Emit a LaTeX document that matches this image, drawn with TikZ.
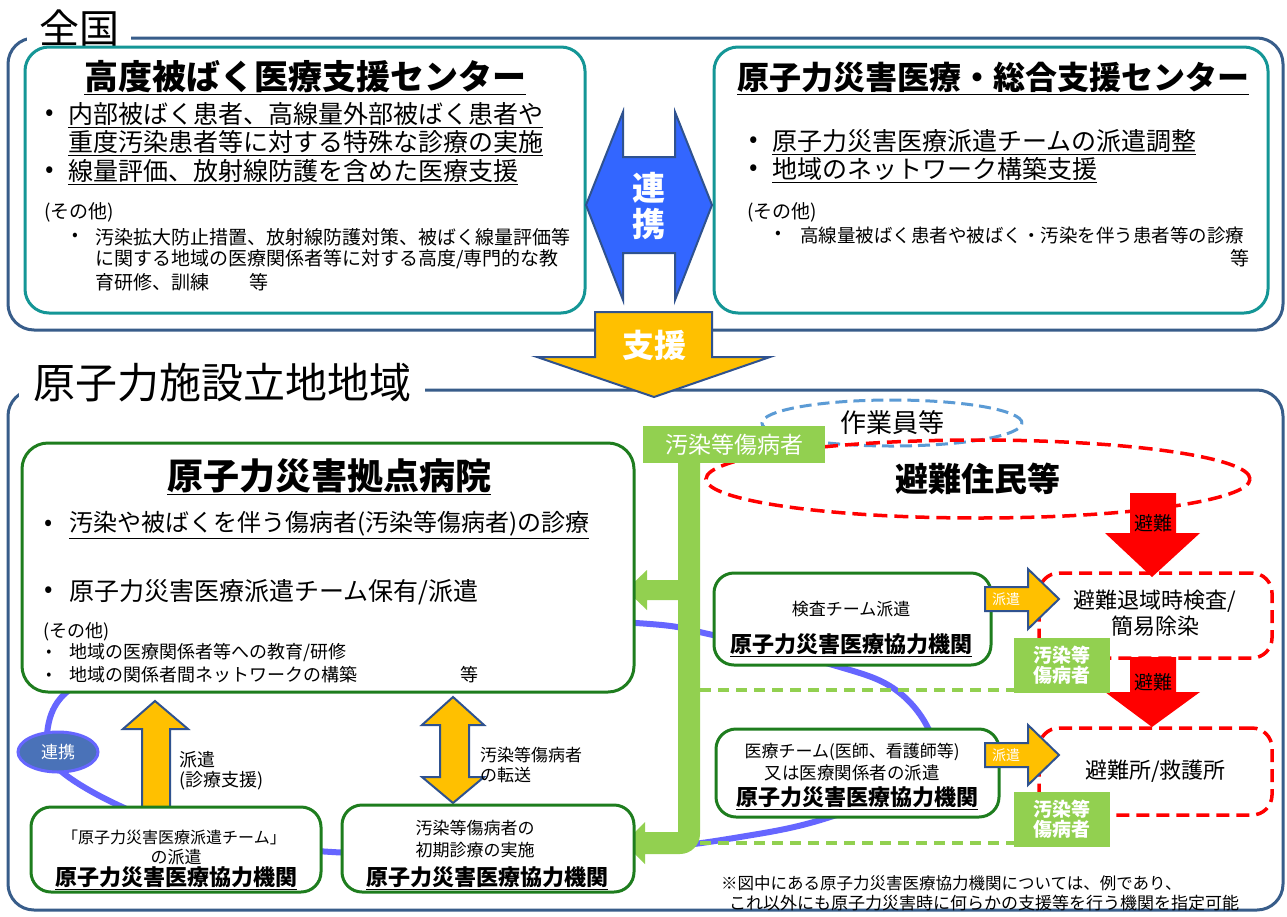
\documentclass[tikz,border=0pt]{standalone}
\usepackage{fontspec}
\setmainfont{Noto Sans CJK JP}
\usetikzlibrary{shapes.geometric}
\definecolor{framec}{RGB}{56,93,138}
\definecolor{tealc}{RGB}{20,150,150}
\definecolor{greenc}{RGB}{30,125,30}
\definecolor{lgreen}{RGB}{146,208,80}
\definecolor{orangec}{RGB}{255,192,0}
\definecolor{arrowblue}{RGB}{51,102,255}
\definecolor{arrowedge}{RGB}{47,82,143}
\definecolor{loopc}{RGB}{102,102,255}
\definecolor{ellfill}{RGB}{74,114,184}
\definecolor{dashblue}{RGB}{91,155,213}
\newcommand\fpx[2]{\fontsize{#1}{#2}\selectfont}
\begin{document}
\begin{tikzpicture}[x=1pt,y=-1pt,
  txt/.style={inner sep=0pt},
  frameln/.style={draw=framec, line width=3pt, rounded corners=26pt},
  tealbox/.style={draw=tealc, line width=3pt, rounded corners=24pt, inner sep=0pt},
  gbox/.style={draw=greenc, line width=3pt, rounded corners=20pt, fill=white, inner sep=0pt},
  oarrow/.style={fill=orangec, draw=arrowedge, line width=2pt},
  redarrow/.style={fill=red, draw=none},
  reddash/.style={draw=red, line width=3.5pt, dash pattern=on 13pt off 7pt, rounded corners=20pt, inner sep=0pt},
  gdash/.style={draw=lgreen, line width=4pt, dash pattern=on 11pt off 7pt},
  glabel/.style={fill=lgreen, text=white, inner sep=0pt, align=center},
  boldu/.style={txt, font=\bfseries\fpx{22}{24}},
]
\useasboundingbox (0,0) rectangle (1287,916);
\fill[white] (0,0) rectangle (1287,916);

% ---------- frames ----------
\draw[frameln] (8,38) rectangle (1283,330);
\node[font=\fpx{40}{40}, fill=white, inner xsep=12pt, inner ysep=1pt, anchor=west] (zenkoku) at (27,28) {全国};
\draw[frameln] (8,390) rectangle (1283,910);
\node[font=\fpx{42}{42}, fill=white, inner xsep=14pt, inner ysep=1pt, anchor=west] (ritchi) at (19,383) {原子力施設立地地域};

% ---------- blue loop ----------
\draw[loopc, line width=6pt] plot[smooth cycle, tension=0.6] coordinates {(46,745) (72,688) (200,640) (420,616) (636,623) (713,635) (833,665) (893,688) (928,728) (936,775) (827,818) (740,837) (640,849) (480,853) (332,852) (200,836) (118,805) (62,772)};

% ---------- top boxes ----------
\node[tealbox, minimum width=560, minimum height=266] (kodo) at (305,180) {};
\node[tealbox, minimum width=554, minimum height=266] (sogo) at (991,180) {};

\node[txt, font=\bfseries\fpx{34}{38}] (kodot) at (305,78) {\underline{高度被ばく医療支援センター}};
\node[txt, font=\fpx{25}{28}] (kb1) at (50,115) {•};
\node[txt, font=\fpx{25}{28}, anchor=west] (k1) at (68,115) {\underline{内部被ばく患者、高線量外部被ばく患者や}};
\node[txt, font=\fpx{25}{28}, anchor=west] (k2) at (68,143) {\underline{重度汚染患者等に対する特殊な診療の実施}};
\node[txt, font=\fpx{25}{28}] (kb2) at (50,172) {•};
\node[txt, font=\fpx{25}{28}, anchor=west] (k3) at (68,172) {\underline{線量評価、放射線防護を含めた医療支援}};
\node[txt, font=\fpx{19}{22}, anchor=west] (ko) at (44,212) {(その他)};
\node[txt, font=\fpx{17}{20}] (kb3) at (75,237) {•};
\node[txt, font=\fpx{19}{22}, anchor=west] (ko1) at (95,237) {汚染拡大防止措置、放射線防護対策、被ばく線量評価等};
\node[txt, font=\fpx{19}{22}, anchor=west] (ko2) at (95,259) {に関する地域の医療関係者等に対する高度/専門的な教};
\node[txt, font=\fpx{19}{22}, anchor=west] (ko3) at (95,282) {育研修、訓練\hspace{40pt}等};

\node[txt, font=\bfseries\fpx{32}{36}] (sogot) at (993,78) {\underline{原子力災害医療・総合支援センター}};
\node[txt, font=\fpx{25}{28}] (sb1) at (754,142) {•};
\node[txt, font=\fpx{25}{28}, anchor=west] (s1) at (772,142) {\underline{原子力災害医療派遣チームの派遣調整}};
\node[txt, font=\fpx{25}{28}] (sb2) at (754,170) {•};
\node[txt, font=\fpx{25}{28}, anchor=west] (s2) at (772,170) {\underline{地域のネットワーク構築支援}};
\node[txt, font=\fpx{19}{22}, anchor=west] (so) at (747,212) {(その他)};
\node[txt, font=\fpx{17}{20}] (sb3) at (778,235) {•};
\node[txt, font=\fpx{18.5}{22}, anchor=west] (so1) at (800,235) {高線量被ばく患者や被ばく・汚染を伴う患者等の診療};
\node[txt, font=\fpx{19}{22}, anchor=east] (so2) at (1250,258) {等};

% ---------- renkei / shien arrows ----------
\draw[fill=arrowblue, draw=arrowedge, line width=2pt] (586,205) -- (623,112) -- (623,157) -- (675,157) -- (675,112) -- (712,205) -- (675,300) -- (675,253) -- (623,253) -- (623,300) -- cycle;
\node[txt, text=white, font=\bfseries\fpx{33}{36}, align=center] (renkeit) at (649,206) {連\\携};
\draw[oarrow] (595,312) -- (712,312) -- (712,357) -- (770,357) -- (654,397) -- (537,357) -- (595,357) -- cycle;
\node[txt, text=white, font=\bfseries\fpx{32}{34}] (shient) at (654,345) {支援};

% ---------- ellipses ----------
\node[ellipse, draw=dashblue, line width=3pt, dash pattern=on 12pt off 6pt, minimum width=260, minimum height=46, inner sep=0pt, font=\fpx{26}{28}] (sagyo) at (892,423) {作業員等};
\node[ellipse, draw=red, line width=3.5pt, dash pattern=on 14pt off 7pt, minimum width=544, minimum height=78, inner sep=0pt, font=\bfseries\fpx{33}{36}] (hinan) at (978,479) {避難住民等};

% ---------- green T arrow ----------
\fill[lgreen] (678,460) -- (678,580) -- (647,580) -- (647,570) -- (626,590) -- (647,610) -- (647,600) -- (678,600) -- (678,832) -- (645,832) -- (645,822) -- (624,843) -- (645,864) -- (645,854) -- (680,854) .. controls (691,854) and (700,845) .. (700,834) -- (700,460) -- cycle;
\node[glabel, minimum width=182, minimum height=37, font=\fpx{23}{26}] (osen) at (734,444.5) {汚染等傷病者};

% ---------- green dashed lines ----------
\coordinate (d1s) at (700,690);
\coordinate (d1e) at (1016,690);
\coordinate (d2s) at (700,843);
\coordinate (d2e) at (1016,843);
\draw[gdash] (d1s) -- (d1e);
\draw[gdash] (d2s) -- (d2e);

% ---------- hospital ----------
\node[gbox, minimum width=612, minimum height=249, rounded corners=26pt] (hosp) at (328,567.5) {};
\node[txt, font=\bfseries\fpx{36}{40}] (hospt) at (329,477) {\underline{原子力災害拠点病院}};
\node[txt, font=\fpx{24}{28}] (hb1) at (49,525) {•};
\node[txt, font=\fpx{24}{28}, anchor=west] (h1) at (69,525) {\underline{汚染や被ばくを伴う傷病者(汚染等傷病者)の診療}};
\node[txt, font=\fpx{25}{28}] (hb2) at (49,592) {•};
\node[txt, font=\fpx{25}{28}, anchor=west] (h2) at (69,592) {原子力災害医療派遣チーム保有/派遣};
\node[txt, font=\fpx{18}{22}, anchor=west] (ho) at (43,632) {(その他)};
\node[txt, font=\fpx{15}{18}] (hb3) at (49,653) {•};
\node[txt, font=\fpx{18}{22}, anchor=west] (ho1) at (69,652) {地域の医療関係者等への教育/研修};
\node[txt, font=\fpx{15}{18}] (hb4) at (49,676) {•};
\node[txt, font=\fpx{18}{22}, anchor=west] (ho2) at (69,675) {地域の関係者間ネットワークの構築};
\node[txt, font=\fpx{18}{22}, anchor=west] (ho3) at (460,675) {等};

% ---------- orange arrows bottom-left ----------
\draw[oarrow] (142,808) -- (142,729) -- (123,729) -- (155,701) -- (188,729) -- (170,729) -- (170,808) -- cycle;
\node[txt, font=\fpx{18}{22}, anchor=west] (hak1) at (179,760) {派遣};
\node[txt, font=\fpx{18}{22}, anchor=west] (hak2) at (179,781) {(診療支援)};
\draw[oarrow] (440,725) -- (422,725) -- (453,697) -- (484,725) -- (469,725) -- (469,777) -- (484,777) -- (453,803) -- (422,777) -- (440,777) -- cycle;
\node[txt, font=\fpx{17}{20}, anchor=west] (ten1) at (480,755) {汚染等傷病者};
\node[txt, font=\fpx{17}{20}, anchor=west] (ten2) at (480,775) {の転送};

% ---------- renkei ellipse ----------
\node[ellipse, fill=ellfill, draw=loopc, line width=3pt, minimum width=80, minimum height=40, inner sep=0pt, text=white, font=\fpx{17}{20}] (renkeiell) at (58,752) {連携};

% ---------- bottom boxes ----------
\node[gbox, minimum width=290, minimum height=85] (bl) at (176,849.5) {};
\node[txt, font=\fpx{16}{20}] (bl1) at (174,837) {「原子力災害医療派遣チーム」};
\node[txt, font=\fpx{17}{20}] (bl2) at (176,857) {の派遣};
\node[boldu] (bl3) at (176,878) {\underline{原子力災害医療協力機関}};

\node[gbox, minimum width=292, minimum height=87] (bm) at (488,848.5) {};
\node[txt, font=\fpx{17}{20}] (bm1) at (475,828) {汚染等傷病者の};
\node[txt, font=\fpx{17}{20}] (bm2) at (475,850) {初期診療の実施};
\node[boldu] (bm3) at (487,878) {\underline{原子力災害医療協力機関}};

% ---------- right side boxes ----------
\node[gbox, minimum width=277, minimum height=92] (kensa) at (852.5,619) {};
\node[txt, font=\fpx{17}{20}] (ke1) at (851,609) {検査チーム派遣};
\node[boldu] (ke2) at (851,645) {\underline{原子力災害医療協力機関}};

\node[gbox, minimum width=283, minimum height=88] (iryo) at (857.5,773) {};
\node[txt, font=\fpx{17}{20}] (ir1) at (852,752) {医療チーム(医師、看護師等)};
\node[txt, font=\fpx{17.5}{20}] (ir2) at (852,773) {又は医療関係者の派遣};
\node[boldu] (ir3) at (857,798) {\underline{原子力災害医療協力機関}};

% red dashed rects
\node[reddash, minimum width=233, minimum height=85] (taiiki) at (1155.5,615.5) {};
\node[txt, font=\fpx{22}{26}] (ta1) at (1155,601) {避難退域時検査/};
\node[txt, font=\fpx{22}{26}] (ta2) at (1155,626) {簡易除染};
\node[reddash, minimum width=233, minimum height=87, font=\fpx{22}{26}] (hinanjo) at (1155.5,771.5) {避難所/救護所};

% red arrows
\draw[redarrow] (1130,493) -- (1176,493) -- (1176,533) -- (1200,533) -- (1152,577) -- (1105,533) -- (1130,533) -- cycle;
\node[txt, font=\fpx{19}{22}] (hn1) at (1153,523) {避難};
\draw[redarrow] (1130,657) -- (1176,657) -- (1176,692) -- (1200,692) -- (1152,727) -- (1105,692) -- (1130,692) -- cycle;
\node[txt, font=\fpx{19}{22}] (hn2) at (1153,682) {避難};

% haken arrows
\draw[oarrow] (985,587) -- (1028,587) -- (1028,569) -- (1059,599) -- (1028,629) -- (1028,611) -- (985,611) -- cycle;
\node[txt, text=white, font=\fpx{14}{16}] (hk1) at (1006,599) {派遣};
\draw[oarrow] (985,743) -- (1028,743) -- (1028,725) -- (1059,755) -- (1028,785) -- (1028,767) -- (985,767) -- cycle;
\node[txt, text=white, font=\fpx{14}{16}] (hk2) at (1006,755) {派遣};

% small green labels
\node[glabel, minimum width=96, minimum height=55, font=\bfseries\fpx{19}{20}] (osen1) at (1062,665.5) {汚染等\\傷病者};
\node[glabel, minimum width=96, minimum height=55, font=\bfseries\fpx{19}{20}] (osen2) at (1062,819.5) {汚染等\\傷病者};

% footnote
\node[txt, font=\fpx{16.5}{20}, anchor=west] (fn1) at (721,883) {※図中にある原子力災害医療協力機関については、例であり、};
\node[txt, font=\fpx{17}{20}, anchor=west] (fn2) at (729,903) {これ以外にも原子力災害時に何らかの支援等を行う機関を指定可能};
\end{tikzpicture}
\end{document}
